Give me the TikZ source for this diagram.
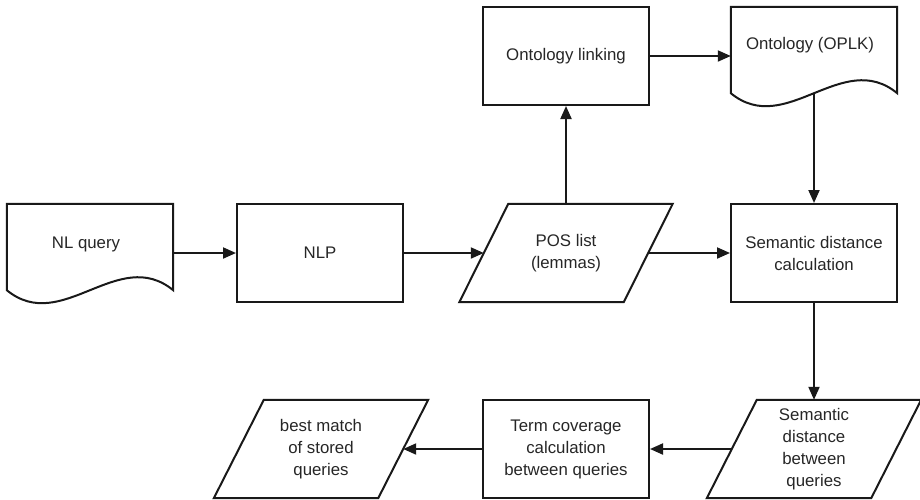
\documentclass[tikz,border=0pt]{standalone}
\usepackage{fontspec}
\setmainfont{Liberation Sans}
\usetikzlibrary{calc,arrows.meta}

% outline of a slanted (data) box around a plain frame node
\newcommand\slantbox[2]{%
  \draw[outline] ($(#1.north west)+(#2,0)$) -- ($(#1.north east)+(#2,0)$)
    -- ($(#1.south east)+(-#2,0)$) -- ($(#1.south west)+(-#2,0)$) -- cycle;}
% outline of a document shape (wavy bottom) around a plain frame node
\newcommand\docoutline[1]{%
  \draw[outline] ($(#1.south west)+(0,12)$) -- (#1.north west) -- (#1.north east)
    -- ($(#1.south east)+(0,12)$)
    .. controls ($(#1.south east)+(-55,57)$) and ($(#1.south west)+(55,-33)$)
    .. ($(#1.south west)+(0,12)$) -- cycle;}

\begin{document}
\begin{tikzpicture}[x=1pt,y=1pt,
  every node/.style={font=\fontsize{16.8}{22}\selectfont, text=black!85},
  box/.style={draw=black!90, line width=2pt, minimum width=166pt,
    minimum height=98pt, inner sep=0pt, align=center},
  frame/.style={minimum width=164pt, minimum height=98pt, inner sep=0pt,
    align=center},
  outline/.style={draw=black!90, line width=2pt, line join=miter},
  flow/.style={draw=black!90, line width=2pt,
    -{Triangle[length=13pt,width=11pt]}},
]
\useasboundingbox (0,0) rectangle (920,-499);

% process boxes
\node[box] (nlp)  at (320,-253) {NLP};
\node[box] (link) at (566,-56)  {Ontology linking};
\node[box] (sdc)  at (814,-253) {Semantic distance\\calculation};
\node[box] (term) at (566,-449) {Term coverage\\calculation\\between queries};

% data (slanted) boxes
\node[frame] (pos)  at (566,-253) {POS list\\(lemmas)};
\node[frame] (sdq)  at (814,-449) {Semantic\\distance\\between\\queries};
\node[frame] (best) at (321,-449) {best match\\of stored\\queries};
\slantbox{pos}{24.5}
\slantbox{sdq}{25}
\slantbox{best}{25}

% documents
\node[frame, minimum width=166pt] (nlq) at (90,-253) {};
\node[frame, minimum width=166pt] (ont) at (814,-56) {};
\docoutline{nlq}
\docoutline{ont}
\node (nlqtext) at ($(nlq.center)+(-4,9)$)  {NL query};
\node (onttext) at ($(ont.center)+(-4,11)$) {Ontology (OPLK)};
\coordinate (ontbase) at ($(ont.south)+(0,12)$);

% connectors
\draw[flow] (nlq.east)  -- (nlp.west);
\draw[flow] (nlp.east)  -- (pos.west);
\draw[flow] (pos.east)  -- (sdc.west);
\draw[flow] (pos.north) -- (link.south);
\draw[flow] (link.east) -- (ont.west);
\draw[flow] (ontbase)   -- (sdc.north);
\draw[flow] (sdc.south) -- (sdq.north);
\draw[flow] (sdq.west)  -- (term.east);
\draw[flow] (term.west) -- (best.east);
\end{tikzpicture}
\end{document}
